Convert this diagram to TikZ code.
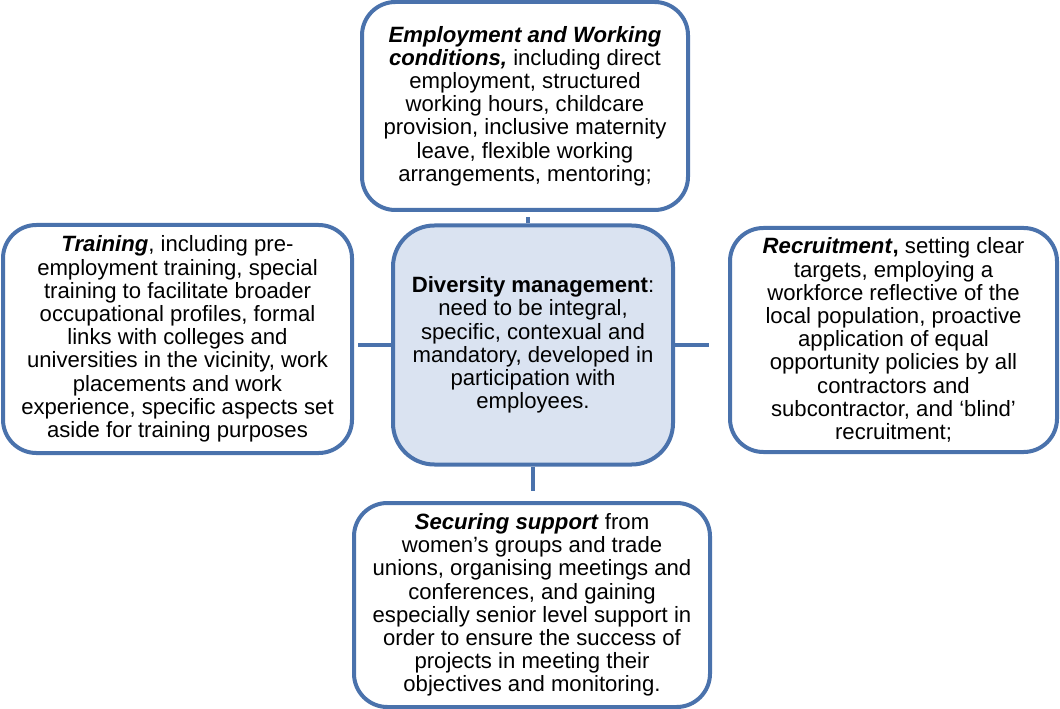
\documentclass[tikz,border=0pt]{standalone}
\usepackage{fontspec}
\setmainfont{Liberation Sans}
\definecolor{frame}{HTML}{4A72AC}
\definecolor{hubfill}{HTML}{DAE3F1}
\begin{document}
\begin{tikzpicture}[x=0.75pt,y=-0.75pt,
  box/.style={draw=frame,line width=3pt,rounded corners=25pt,fill=white,
    align=center,inner sep=0pt,font=\fontsize{16.6}{17.4}\selectfont},
  hub/.style={box,fill=hubfill,rounded corners=31pt},
  link/.style={draw=frame,line width=3pt}]
\useasboundingbox (0,0) rectangle (1060,709);

\node[hub,minimum width=210pt,minimum height=179.25pt] (dm) at (533,345)
  {\textbf{Diversity management}:\\ need to be integral,\\ specific, contexual and\\ mandatory, developed in\\ participation with\\ employees.};

\node[box,minimum width=244.5pt,minimum height=156pt] (emp) at (525,106)
  {\textbf{\textit{Employment and Working}}\\ \textbf{\textit{conditions,}} including direct\\ employment, structured\\ working hours, childcare\\ provision, inclusive maternity\\ leave, flexible working\\ arrangements, mentoring;};

\node[box,minimum width=261.75pt,minimum height=171pt] (trn) at (177.5,339)
  {\textbf{\textit{Training}}, including pre-\\ employment training, special\\ training to facilitate broader\\ occupational profiles, formal\\ links with colleges and\\ universities in the vicinity, work\\ placements and work\\ experience, specific aspects set\\ aside for training purposes};

\node[box,minimum width=245.25pt,minimum height=168pt] (rec) at (893.5,340)
  {\textbf{\textit{Recruitment}}\textbf{,} setting clear\\ targets, employing a\\ workforce reflective of the\\ local population, proactive\\ application of equal\\ opportunity policies by all\\ contractors and\\ subcontractor, and ‘blind’\\ recruitment;};

\node[box,minimum width=267pt,minimum height=153pt] (sup) at (532,605)
  {\textbf{\textit{Securing support}} from\\ women’s groups and trade\\ unions, organising meetings and\\ conferences, and gaining\\ especially senior level support in\\ order to ensure the success of\\ projects in meeting their\\ objectives and monitoring.};

% short connectors from the hub towards each surrounding box
\draw[link,shorten >=4pt] ([xshift=-4pt]dm.north) -- ([xshift=-4pt]dm.north |- emp.south);
\draw[link,shorten >=3pt] (dm.west) -- (dm.west -| trn.east);
\draw[link,shorten >=14pt] (dm.east) -- (dm.east -| rec.west);
\draw[link,shorten >=7.5pt] (dm.south) -- (dm.south |- sup.north);
\end{tikzpicture}
\end{document}
